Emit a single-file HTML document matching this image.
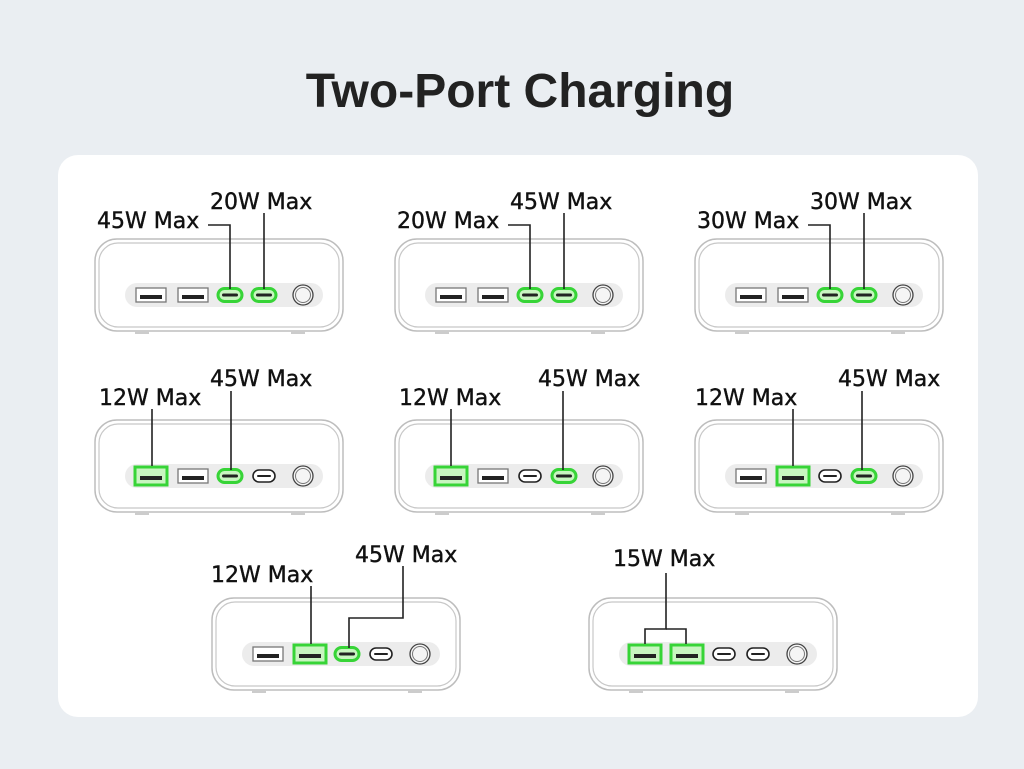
<!DOCTYPE html>
<html><head><meta charset="utf-8"><style>
html,body{margin:0;padding:0;background:#eaeef2;}
body{width:1024px;height:769px;overflow:hidden;position:relative;font-family:"Liberation Sans","DejaVu Sans",sans-serif;}
svg{position:absolute;left:0;top:0}
text{font-family:"DejaVu Sans","Liberation Sans",sans-serif;fill:#111;}
</style></head><body>
<svg id="s" width="1024" height="769" viewBox="0 0 1024 769" xmlns="http://www.w3.org/2000/svg">
<rect x="0" y="0" width="1024" height="769" fill="#eaeef2"/>
<rect x="58" y="155" width="920" height="562" rx="20" fill="#ffffff"/>
<text x="520" y="107" text-anchor="middle" font-size="48" font-weight="bold" style="fill:#222;font-family:'Liberation Sans',sans-serif">Two-Port Charging</text>
<g id="devs"></g>
<g font-size="22" stroke="#111" stroke-width="0.4">
<text x="97" y="228">45W Max</text><text x="210" y="209">20W Max</text>
<text x="397" y="228">20W Max</text><text x="510" y="209">45W Max</text>
<text x="697" y="228">30W Max</text><text x="810" y="209">30W Max</text>
<text x="99" y="405">12W Max</text><text x="210" y="386">45W Max</text>
<text x="399" y="405">12W Max</text><text x="538" y="386">45W Max</text>
<text x="695" y="405">12W Max</text><text x="838" y="386">45W Max</text>
<text x="211" y="582">12W Max</text><text x="355" y="562">45W Max</text>
<text x="613" y="566">15W Max</text>
</g>
<g stroke="#222" stroke-width="1.6" fill="none">
<polyline points="208,225 230,225 230,289"/><polyline points="264,213 264,289"/>
<polyline points="508,225 530,225 530,289"/><polyline points="564,213 564,289"/>
<polyline points="808,225 830,225 830,289"/><polyline points="864,213 864,289"/>
<polyline points="152,409 152,466"/><polyline points="231,391 231,470"/>
<polyline points="451,409 451,466"/><polyline points="563,391 563,470"/>
<polyline points="793,409 793,466"/><polyline points="862,391 862,470"/>
<polyline points="311,586 311,644"/><polyline points="403,566 403,618 349,618 349,648"/>
<polyline points="666,573 666,629 645,629 645,644"/><polyline points="666,629 686,629 686,644"/>
</g>
</svg>
<script>
var NS="http://www.w3.org/2000/svg",g=document.getElementById("devs");
function el(t,a){var e=document.createElementNS(NS,t);for(var k in a)e.setAttribute(k,a[k]);g.appendChild(e);return e;}
function dev(x,y,green){
  el("rect",{x:x,y:y,width:248,height:92,rx:22,fill:"#fff",stroke:"#bdbdbd","stroke-width":1.5});
  el("rect",{x:x+4,y:y+4,width:240,height:84,rx:19,fill:"#fff",stroke:"#c8c8c8","stroke-width":1.2});
  el("rect",{x:x+40,y:y+92,width:14,height:3,fill:"#ccc"});
  el("rect",{x:x+196,y:y+92,width:14,height:3,fill:"#ccc"});
  el("rect",{x:x+30,y:y+44,width:198,height:24,rx:12,fill:"#ececec"});
  var cy=y+56;
  var ports=[["a",56],["a",98],["c",135],["c",169]];
  ports.forEach(function(p,i){
    var cx=x+p[1],gr=green.indexOf(i)>=0;
    if(p[0]=="a"){
      if(gr){el("rect",{x:cx-16,y:cy-9,width:32,height:18,fill:"#c8f5c0",stroke:"#37d437","stroke-width":3});}
      else el("rect",{x:cx-15,y:cy-7,width:30,height:14,fill:"#fff",stroke:"#777","stroke-width":1.3});
      el("rect",{x:cx-11,y:cy,width:22,height:4,fill:"#222"});
    }else{
      if(gr){el("rect",{x:cx-12,y:cy-6.5,width:24,height:13,rx:6.5,fill:"#c8f5c0",stroke:"#37d437","stroke-width":3});
        el("rect",{x:cx-8,y:cy-1.5,width:16,height:3,rx:1.5,fill:"#222"});}
      else{el("rect",{x:cx-11,y:cy-6,width:22,height:12,rx:6,fill:"#fff",stroke:"#222","stroke-width":1.6});
        el("rect",{x:cx-7,y:cy-1,width:14,height:2,rx:1,fill:"#222"});}
    }
  });
  el("circle",{cx:x+208,cy:cy,r:10,fill:"#f5f5f5",stroke:"#444","stroke-width":1.3});
  el("circle",{cx:x+208,cy:cy,r:7.5,fill:"none",stroke:"#777","stroke-width":1});
}
dev(95,239,[2,3]);dev(395,239,[2,3]);dev(695,239,[2,3]);
dev(95,420,[0,2]);dev(395,420,[0,3]);dev(695,420,[1,3]);
dev(212,598,[1,2]);dev(589,598,[0,1]);
</script>
</body></html>
